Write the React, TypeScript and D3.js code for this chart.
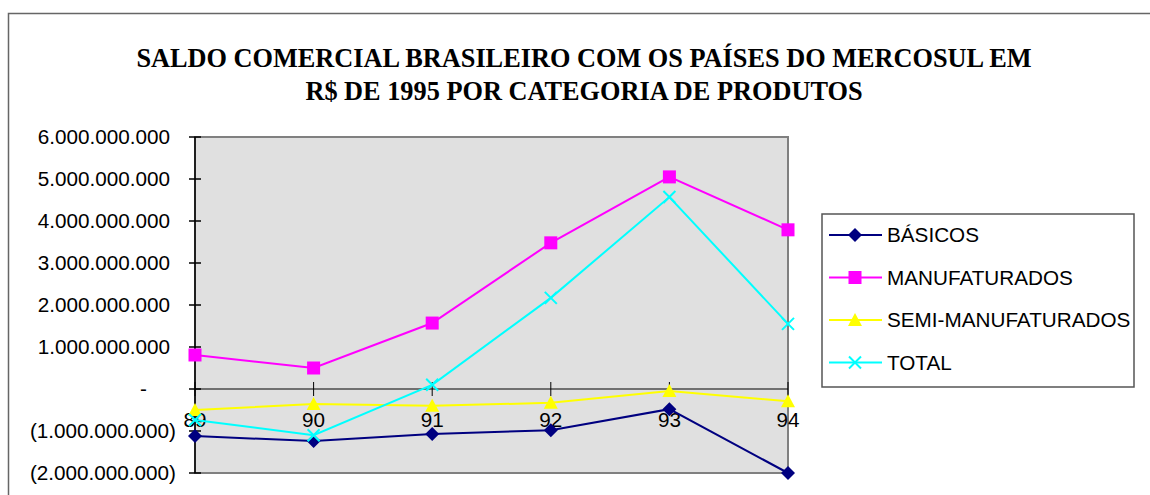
import React from 'react';
import * as d3 from 'd3';

const years = ['89', '90', '91', '92', '93', '94'];
const basicos = [-1.12e9, -1.24e9, -1.07e9, -0.98e9, -0.48e9, -2.0e9];
const manufaturados = [0.81e9, 0.5e9, 1.57e9, 3.48e9, 5.05e9, 3.79e9];
const semiManufaturados = [-0.5e9, -0.36e9, -0.4e9, -0.33e9, -0.05e9, -0.29e9];
const total = [-0.74e9, -1.1e9, 0.1e9, 2.17e9, 4.57e9, 1.55e9];
const yTicks = [6e9, 5e9, 4e9, 3e9, 2e9, 1e9, 0, -1e9, -2e9];
const yTickLabels = [
  '6.000.000.000', '5.000.000.000', '4.000.000.000', '3.000.000.000',
  '2.000.000.000', '1.000.000.000', '-', '(1.000.000.000)', '(2.000.000.000)',
];

type Marker = 'diamond' | 'square' | 'triangle' | 'x';
const series: { name: string; values: number[]; color: string; marker: Marker }[] = [
  { name: 'BÁSICOS', values: basicos, color: '#000080', marker: 'diamond' },
  { name: 'MANUFATURADOS', values: manufaturados, color: '#FF00FF', marker: 'square' },
  { name: 'SEMI-MANUFATURADOS', values: semiManufaturados, color: '#FFFF00', marker: 'triangle' },
  { name: 'TOTAL', values: total, color: '#00FFFF', marker: 'x' },
];

const W = 1150;
const H = 495;
const plot = { left: 195, right: 788, top: 137, bottom: 473 };
const sans = '"Liberation Sans", Arial, sans-serif';
const serif = '"Liberation Serif", "Times New Roman", serif';
const fs = 20.7;

function MarkerShape({ type, color, x, y }: { type: Marker; color: string; x: number; y: number }) {
  if (type === 'diamond') {
    return <path d={`M${x},${y - 7}L${x + 7},${y}L${x},${y + 7}L${x - 7},${y}Z`} fill={color} />;
  }
  if (type === 'square') {
    return <rect x={x - 6.5} y={y - 6.5} width={13} height={13} fill={color} />;
  }
  if (type === 'triangle') {
    return <path d={`M${x},${y - 7}L${x + 7},${y + 6}L${x - 7},${y + 6}Z`} fill={color} />;
  }
  return (
    <path d={`M${x - 6},${y - 6}L${x + 6},${y + 6}M${x - 6},${y + 6}L${x + 6},${y - 6}`}
      stroke={color} strokeWidth={2} fill="none" />
  );
}

export default function App() {
  const x = d3.scalePoint<string>().domain(years).range([plot.left, plot.right]);
  const y = d3.scaleLinear().domain([-2e9, 6e9]).range([plot.bottom, plot.top]);
  const zeroY = y(0);

  const line = d3.line<number>()
    .x((_, i) => x(years[i]) as number)
    .y((d) => y(d));

  const legend = { x: 822, y: 214, w: 312, h: 173 };

  return (
    <svg width={W} height={H} style={{ position: 'absolute', left: 0, top: 0, background: '#fff' }}>
      {/* chart frame */}
      <rect x={8.5} y={13.5} width={W} height={H} fill="#fff" stroke="#666" strokeWidth={1.5} />

      {/* title */}
      <text x={584} y={67} textAnchor="middle" fontFamily={serif} fontWeight="bold" fontSize={26.3}>
        SALDO COMERCIAL BRASILEIRO COM OS PAÍSES DO MERCOSUL EM
      </text>
      <text x={584} y={100} textAnchor="middle" fontFamily={serif} fontWeight="bold" fontSize={26.3}>
        R$ DE 1995 POR CATEGORIA DE PRODUTOS
      </text>

      {/* plot area */}
      <rect x={plot.left} y={plot.top} width={plot.right - plot.left} height={plot.bottom - plot.top}
        fill="#E0E0E0" stroke="#808080" strokeWidth={2} />

      {/* y axis */}
      <line x1={plot.left} x2={plot.left} y1={plot.top} y2={plot.bottom} stroke="#000" strokeWidth={1.5} />
      {yTicks.map((t, i) => {
        const lab = yTickLabels[i];
        const tx = lab.startsWith('(') ? 176 : lab === '-' ? 147 : 170;
        return (
          <g key={t}>
            <line x1={plot.left - 6} x2={plot.left + 6} y1={y(t)} y2={y(t)} stroke="#000" strokeWidth={1.5} />
            <text x={tx} y={y(t) + 7} textAnchor="end" fontFamily={sans} fontSize={fs}>{lab}</text>
          </g>
        );
      })}

      {/* x axis at zero */}
      <line x1={plot.left} x2={plot.right} y1={zeroY} y2={zeroY} stroke="#000" strokeWidth={1} />
      {years.map((yr) => (
        <g key={yr}>
          <line x1={x(yr)} x2={x(yr)} y1={zeroY - 7} y2={zeroY + 7} stroke="#000" strokeWidth={1} />
          <text x={x(yr)} y={zeroY + 38} textAnchor="middle" fontFamily={sans} fontSize={fs}>{yr}</text>
        </g>
      ))}

      {/* series */}
      {series.map((s) => (
        <g key={s.name}>
          <path d={line(s.values) ?? ''} fill="none" stroke={s.color} strokeWidth={2} />
          {s.values.map((v, i) => (
            <MarkerShape key={i} type={s.marker} color={s.color} x={x(years[i]) as number} y={y(v)} />
          ))}
        </g>
      ))}

      {/* legend */}
      <rect x={legend.x} y={legend.y} width={legend.w} height={legend.h} fill="#fff" stroke="#555" strokeWidth={1.5} />
      {series.map((s, i) => {
        const ly = 235 + i * 42.5;
        return (
          <g key={s.name}>
            <line x1={829} x2={882} y1={ly} y2={ly} stroke={s.color} strokeWidth={2} />
            <MarkerShape type={s.marker} color={s.color} x={855} y={ly} />
            <text x={887} y={ly + 7} fontFamily={sans} fontSize={fs}>{s.name}</text>
          </g>
        );
      })}
    </svg>
  );
}
